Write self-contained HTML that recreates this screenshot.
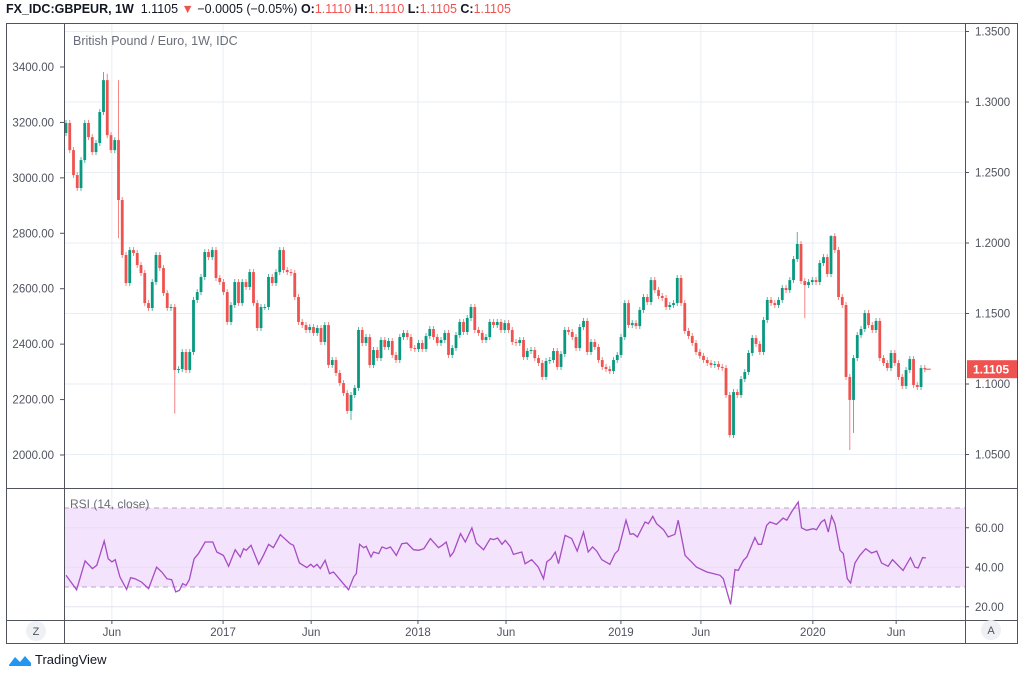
<!DOCTYPE html>
<html><head><meta charset="utf-8">
<style>
html,body{margin:0;padding:0;background:#fff;}
body{width:1023px;height:673px;overflow:hidden;font-family:"Liberation Sans",sans-serif;position:relative;}
#hdr{position:absolute;left:6px;top:2px;font-size:12.5px;color:#131722;white-space:nowrap;}
#hdr b{font-weight:bold;}
.red{color:#ef5350;}
#logo{position:absolute;left:8px;top:652px;font-size:13px;color:#131722;display:flex;align-items:center;gap:3px;}
</style></head>
<body>
<div id="hdr"><b>FX_IDC:GBPEUR, 1W</b>&nbsp; 1.1105 <span class="red">▼</span> −0.0005 (−0.05%) <b>O:</b><span class="red">1.1110</span> <b>H:</b><span class="red">1.1110</span> <b>L:</b><span class="red">1.1105</span> <b>C:</b><span class="red">1.1105</span></div>
<svg id="chart" width="1023" height="673" style="position:absolute;left:0;top:0" xmlns="http://www.w3.org/2000/svg"></svg>
<div id="logo"><svg width="24" height="14" viewBox="0 0 24 14"><path d="M1 12 L7 4 L12 9 L17 3 L23 10 L23 13 L1 13Z" fill="#2196f3"/></svg><span>TradingView</span></div>
<script>
const closes=[1.2851,1.2659,1.2482,1.2390,1.2588,1.2851,1.2751,1.2645,1.2709,1.2929,1.3155,1.2765,1.2659,1.2730,1.2305,1.1915,1.1716,1.1950,1.1929,1.1844,1.1787,1.1574,1.1539,1.1723,1.1915,1.1822,1.1645,1.1539,1.1546,1.1099,1.1106,1.1227,1.1099,1.1227,1.1596,1.1652,1.1759,1.1936,1.1900,1.1950,1.1752,1.1723,1.1652,1.1440,1.1560,1.1723,1.1574,1.1723,1.1688,1.1794,1.1574,1.1397,1.1546,1.1546,1.1759,1.1716,1.1794,1.1950,1.1808,1.1794,1.1787,1.1617,1.1440,1.1418,1.1383,1.1404,1.1362,1.1397,1.1298,1.1418,1.1135,1.1170,1.1078,1.1007,1.0936,1.0809,1.0922,1.0972,1.1383,
1.1291,1.1333,1.1135,1.1241,1.1184,1.1312,1.1262,1.1305,1.1206,1.1170,1.1333,1.1362,1.1333,1.1255,1.1248,1.1291,1.1248,1.1340,1.1390,1.1333,1.1291,1.1312,1.1362,1.1206,1.1255,1.1347,1.1440,1.1369,1.1468,1.1546,1.1383,1.1362,1.1312,1.1333,1.1440,1.1418,1.1440,1.1383,1.1432,1.1383,1.1298,1.1291,1.1312,1.1191,1.1234,1.1241,1.1184,1.1149,1.1050,1.1163,1.1170,1.1234,1.1121,1.1213,1.1383,1.1369,1.1333,1.1255,1.1404,1.1447,1.1227,1.1298,1.1262,1.1170,1.1121,1.1106,1.1092,1.1170,1.1206,1.1333,1.1574,
1.1418,1.1432,1.1411,1.1525,1.1617,1.1581,1.1737,1.1666,1.1624,1.1610,1.1546,1.1560,1.1574,1.1752,1.1574,1.1376,1.1340,1.1291,1.1227,1.1199,1.1170,1.1149,1.1135,1.1142,1.1121,1.1113,1.0922,1.0638,1.0943,1.0922,1.1035,1.1085,1.1220,1.1326,1.1284,1.1227,1.1454,1.1596,1.1574,1.1560,1.1596,1.1681,1.1666,1.1737,1.1886,1.1993,1.1730,1.1702,1.1723,1.1737,1.1723,1.1858,1.1900,1.1780,1.2049,1.1950,1.1617,1.1560,1.1050,1.0887,1.1184,1.1347,1.1390,1.1503,1.1418,1.1383,1.1447,1.1184,1.1149,1.1113,1.1220,1.1149,1.1050,1.0986,1.1099,1.1177,1.0993,1.0979,1.1113,1.1105];
const firstOpen=1.2780;
const wickIdx=[10,11,14,29,76,177,195,197,204,205,209,210,214];
const wickHigh=[1.3212,1.3200,1.3155,null,null,null,1.2078,null,1.2056,1.2070,null,null,1.1525];
const wickLow=[null,null,1.2035,1.0790,1.0745,1.0620,null,1.1468,null,null,1.0532,1.0653,null];
const rsiWeeks=[0,2.9,5.2,7.2,8.4,10.4,11.5,12.5,13.4,14.7,16.5,17.6,18.8,20.6,22.5,24.7,26.1,27.5,28.8,29.9,30.9,31.8,32.7,33.6,34.9,36.1,37.9,40.0,41.1,42.9,44.3,46.1,47.5,48.4,49.1,50.4,52.5,53.8,55.2,56.5,58.4,61.1,62.0,63.6,65.6,66.7,67.5,68.4,69.3,70.6,71.8,72.9,75.2,77.0,78.4,79.1,80.0,81.1,81.8,83.1,83.8,85.2,86.1,87.3,88.4,90.0,91.5,92.9,94.7,96.1,97.5,99.3,101.5,102.5,103.6,104.7,105.6,107.5,108.8,110.6,111.8,113.8,115.6,116.5,117.6,118.8,119.7,121.1,121.9,124.2,125.1,126.9,128.7,130.1,131.0,132.1,133.3,134.2,136.0,137.8,139.3,141.0,142.3,143.5,144.6,146.0,148.2,149.6,150.5,152.6,153.7,154.6,155.7,157.8,158.7,159.9,160.9,162.8,164.1,165.9,166.8,168.7,170.0,171.8,174.6,176.4,178.2,179.1,181.1,182.3,183.2,184.6,185.5,187.7,188.6,189.5,190.9,191.8,193.6,195.4,196.4,197.7,199.5,200.4,201.8,203.6,204.5,205.8,206.7,207.7,208.6,209.5,210.9,211.8,212.9,213.8,215.0,216.3,217.9,219.5,220.9,222.2,224.0,225.2,228.1,230.1,231.3,232.2,233.4,234.3];
const rsiValues=[35.9,28.6,43.2,39.3,41.0,53.3,44.3,42.7,43.8,35.1,28.8,34.7,34.2,32.5,29.2,40.1,37.6,34.2,33.7,27.5,28.3,31.7,30.8,33.7,44.3,46.9,52.8,52.8,47.7,46.0,40.5,48.9,45.2,49.4,48.6,51.1,41.5,46.0,51.6,49.9,56.5,51.9,51.1,42.2,39.8,41.5,40.1,41.5,39.3,43.5,36.8,37.6,32.5,28.6,35.1,36.8,51.6,49.9,50.6,45.2,47.7,46.9,50.3,49.4,50.3,46.0,51.9,52.3,48.9,48.6,49.4,54.5,49.9,51.1,52.8,45.5,47.7,57.0,52.8,59.9,52.3,48.9,54.5,54.0,54.8,51.6,53.6,50.3,46.5,47.7,41.8,43.8,40.1,34.2,42.7,44.3,47.7,41.8,56.2,54.5,48.2,57.8,47.7,50.3,48.2,43.8,41.5,46.9,48.6,63.8,56.7,57.0,55.3,62.9,62.1,65.8,62.1,59.0,55.3,56.7,63.8,46.0,43.5,40.1,37.6,36.8,35.9,34.2,21.2,38.8,38.4,43.5,45.2,55.0,51.6,51.6,61.2,62.9,61.7,64.9,63.8,68.0,73.0,60.0,58.7,59.5,59.0,62.9,64.1,57.8,65.9,62.1,48.6,46.9,34.2,32.0,42.2,46.0,49.4,47.2,48.2,42.2,40.5,43.8,38.4,44.9,40.1,39.6,44.9,44.7];
const priceTicks=[1.35,1.30,1.25,1.20,1.15,1.10,1.05];
const priceTickLabels=["1.3500","1.3000","1.2500","1.2000","1.1500","1.1000","1.0500"];
const leftTicks=[3400,3200,3000,2800,2600,2400,2200,2000];
const leftTickLabels=["3400.00","3200.00","3000.00","2800.00","2600.00","2400.00","2200.00","2000.00"];
const rsiTicks=[60,40,20];
const rsiTickLabels=["60.00","40.00","20.00"];
const timeTickWeeks=[12.5,42.8,66.8,95.9,119.9,151.2,173.0,203.5,226.2];
const timeTickLabels=["Jun","2017","Jun","2018","Jun","2019","Jun","2020","Jun"];
const lastPrice=1.1105;

const svg=document.getElementById('chart');
const NS='http://www.w3.org/2000/svg';
function mk(tag,attrs,parent){const e=document.createElementNS(NS,tag);for(const k in attrs)e.setAttribute(k,attrs[k]);(parent||svg).appendChild(e);return e;}
const L=64,R=965,T=23,PB=488,RB=620,B=643,FR=1017;
const xW=w=>66+w*3.67;
const weekOfCandle=i=>i*234/(closes.length-1);
const yP=p=>384-(p-1.10)*1410;
const yL=v=>67+(3400-v)*(388/1400);
const yR=v=>587-(v-30)*1.975;

priceTicks.forEach(p=>{const g=mk('line',{x1:L,x2:R,y1:yP(p),y2:yP(p),stroke:'#e8eef4','stroke-width':1});

});
timeTickWeeks.forEach(w=>{const g=mk('line',{x1:xW(w),x2:xW(w),y1:T,y2:RB,stroke:'#e8eef4','stroke-width':1});

});

const band=mk('rect',{x:L,y:yR(70),width:R-L,height:yR(30)-yR(70),fill:'#f3e3fc'});


rsiTicks.forEach(v=>{const g=mk('line',{x1:L,x2:R,y1:yR(v),y2:yR(v),stroke:'#e6e0f0','stroke-width':1});

});
[70,30].forEach(v=>{const g=mk('line',{x1:L,x2:R,y1:yR(v),y2:yR(v),stroke:'#b7a3c2','stroke-width':1,'stroke-dasharray':'5,4'});

});

let prev=firstOpen;
closes.forEach((c,i)=>{
  const o=prev;prev=c;
  const up=c>=o;const col=up?'#089981':'#ef5350';
  const x=xW(weekOfCandle(i));
  let hi=Math.max(o,c),lo=Math.min(o,c);
  const k=wickIdx.indexOf(i);
  let yh=yP(hi)-3,yl=yP(lo)+3;
  if(k>=0){if(wickHigh[k]!==null)yh=yP(wickHigh[k]);if(wickLow[k]!==null)yl=yP(wickLow[k]);}
  const w=mk('line',{x1:x,x2:x,y1:yh,y2:yl,stroke:col,'stroke-width':1,'stroke-opacity':0.7});
  
  
  const top=yP(hi),h=Math.max(1,yP(lo)-top);
  const b=mk('rect',{x:x-1.4,y:top,width:2.8,height:h,fill:col});
  
  
});

const pts=rsiValues.map((v,i)=>xW(rsiWeeks[i]).toFixed(1)+','+yR(v).toFixed(1)).join(' ');
const rl=mk('polyline',{points:pts,fill:'none',stroke:'#a64cc4','stroke-width':1.3});



const fr=mk('rect',{x:6.5,y:T+0.5,width:FR-6,height:B-T,fill:'none',stroke:'#50535e','stroke-width':1});


[[L+0.5,T,L+0.5,B],[R+0.5,T,R+0.5,B],[6,PB+0.5,FR,PB+0.5],[6,RB+0.5,FR,RB+0.5]].forEach(a=>{
  const s=mk('line',{x1:a[0],y1:a[1],x2:a[2],y2:a[3],stroke:'#50535e','stroke-width':1});
  
  
});

function txt(x,y,s,anchor,name,extra){const t=mk('text',Object.assign({x:x,y:y,'font-size':11.5,fill:'#50535e','text-anchor':anchor,'font-family':'Liberation Sans, sans-serif'},extra||{}));t.textContent=s;

return t;}
priceTicks.forEach((p,i)=>{mk('line',{x1:R,x2:R+4,y1:yP(p),y2:yP(p),stroke:'#50535e'});txt(R+10,yP(p)+4,priceTickLabels[i],'start','right-axis-label');});
leftTicks.forEach((v,i)=>{mk('line',{x1:L-4,x2:L,y1:yL(v),y2:yL(v),stroke:'#50535e'});txt(L-10,yL(v)+4,leftTickLabels[i],'end','left-axis-label');});
rsiTicks.forEach((v,i)=>{mk('line',{x1:R,x2:R+4,y1:yR(v),y2:yR(v),stroke:'#50535e'});txt(R+10,yR(v)+4,rsiTickLabels[i],'start','rsi-axis-label');});
timeTickWeeks.forEach((w,i)=>{mk('line',{x1:xW(w),x2:xW(w),y1:RB,y2:RB+4,stroke:'#50535e'});txt(xW(w),RB+16,timeTickLabels[i],'middle','time-axis-label');});

txt(73,45,'British Pound / Euro, 1W, IDC','start','chart-title',{'font-size':12.5,fill:'#6a6d78'});
txt(70,508,'RSI (14, close)','start','rsi-title',{'font-size':12,fill:'#6a6d78'});

const ly=yP(lastPrice);
const lx=xW(weekOfCandle(closes.length-1));
const ll=mk('line',{x1:lx,x2:lx+6,y1:ly,y2:ly,stroke:'#ef5350','stroke-width':1});


const lb=mk('rect',{x:R+2,y:ly-9,width:50,height:18,fill:'#ef5350'});


txt(R+8,ly+4.5,lastPrice.toFixed(4),'start','last-price-label',{fill:'#fff','font-weight':'bold','font-size':12});

const zc=mk('circle',{cx:36,cy:631,r:10,fill:'#eef0f3'});


txt(36,635,'Z','middle','zoom-reset-label',{'font-size':11});
const ac=mk('circle',{cx:991,cy:630,r:10,fill:'#eef0f3'});


txt(991,634,'A','middle','auto-scale-label',{'font-size':11});
</script>
</body></html>
